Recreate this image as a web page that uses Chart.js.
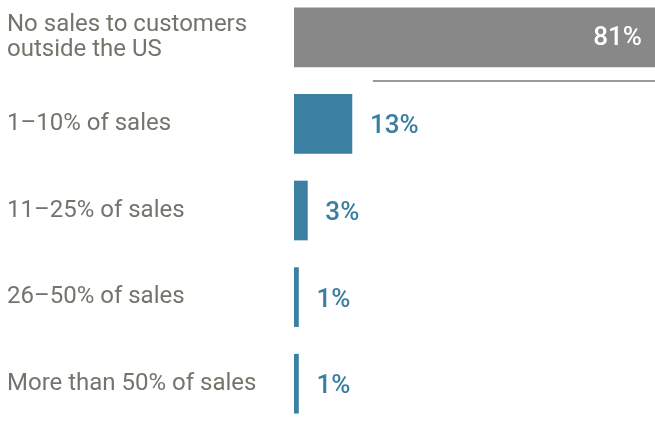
<!DOCTYPE html>
<html>
<head>
<meta charset="utf-8">
<script src="https://cdn.jsdelivr.net/npm/chart.js@4.4.1/dist/chart.umd.min.js"></script>
<style>
  html, body { margin: 0; padding: 0; background: #fff; overflow: hidden; }
  #wrap { position: relative; width: 655px; height: 426px; overflow: hidden; }
  #salesChart { position: absolute; left: 0; top: -6px; }
</style>
</head>
<body>
<div id="wrap">
  <canvas id="salesChart" width="655" height="433"></canvas>
</div>
<script>
// Share of sales to customers outside the US
const categories = [
    ['No sales to customers', 'outside the US'],
    '1\u201310% of sales',
    '11\u201325% of sales',
    '26\u201350% of sales',
    'More than 50% of sales'
];
const shares = [81, 13, 3, 1, 1];
const barColors = ['#888888', '#3b7fa3', '#3b7fa3', '#3b7fa3', '#3b7fa3'];

// percentage labels: white inside the first bar, blue beside the others
const valueLabels = {
    id: 'valueLabels',
    afterDatasetsDraw(chart) {
        const ctx = chart.ctx;
        const bars = chart.getDatasetMeta(0).data;
        ctx.save();
        ctx.font = '500 26px Roboto';
        ctx.textBaseline = 'middle';
        bars.forEach((bar, i) => {
            const text = shares[i] + '%';
            if (i === 0) {
                ctx.fillStyle = '#ffffff';
                ctx.textAlign = 'right';
                ctx.fillText(text, bar.x - 13, bar.y + 1);
            } else {
                ctx.fillStyle = '#3a7fa0';
                ctx.textAlign = 'left';
                ctx.fillText(text, bar.x + 18, bar.y + 3);
            }
        });
        ctx.restore();
    }
};

// thin rule separating the "no sales" bar from the rest
const separator = {
    id: 'separator',
    afterDatasetsDraw(chart, args, opts) {
        const bars = chart.getDatasetMeta(0).data;
        const y = Math.round((bars[0].y + bars[1].y) / 2);
        const x0 = chart.scales.x.getPixelForValue(opts.from);
        const ctx = chart.ctx;
        ctx.save();
        ctx.strokeStyle = '#9a9a9a';
        ctx.lineWidth = 2;
        ctx.beginPath();
        ctx.moveTo(x0, y);
        ctx.lineTo(chart.chartArea.right, y);
        ctx.stroke();
        ctx.restore();
    }
};

Chart.defaults.font.family = 'Roboto';

new Chart(document.getElementById('salesChart'), {
    type: 'bar',
    data: {
        labels: categories,
        datasets: [{
            data: shares,
            backgroundColor: barColors,
            borderWidth: 0,
            barThickness: 59
        }]
    },
    options: {
        indexAxis: 'y',
        responsive: false,
        animation: false,
        layout: { padding: { left: 7, right: 0, top: 0, bottom: 0 } },
        scales: {
            x: {
                display: false,
                min: 0,
                max: 81
            },
            y: {
                grid: { display: false },
                border: { display: false },
                ticks: {
                    crossAlign: 'far',
                    padding: 0,
                    color: '#75746c',
                    font: { size: 24, lineHeight: 1.05 }
                },
                afterFit(scale) {
                    // fixed label column; no extra room above/below the bands
                    scale.width = 287;
                    scale.paddingTop = 0;
                    scale.paddingBottom = 0;
                }
            }
        },
        plugins: {
            legend: { display: false },
            tooltip: { enabled: false },
            separator: { from: 17.7 }
        }
    },
    plugins: [valueLabels, separator]
});
</script>
</body>
</html>
